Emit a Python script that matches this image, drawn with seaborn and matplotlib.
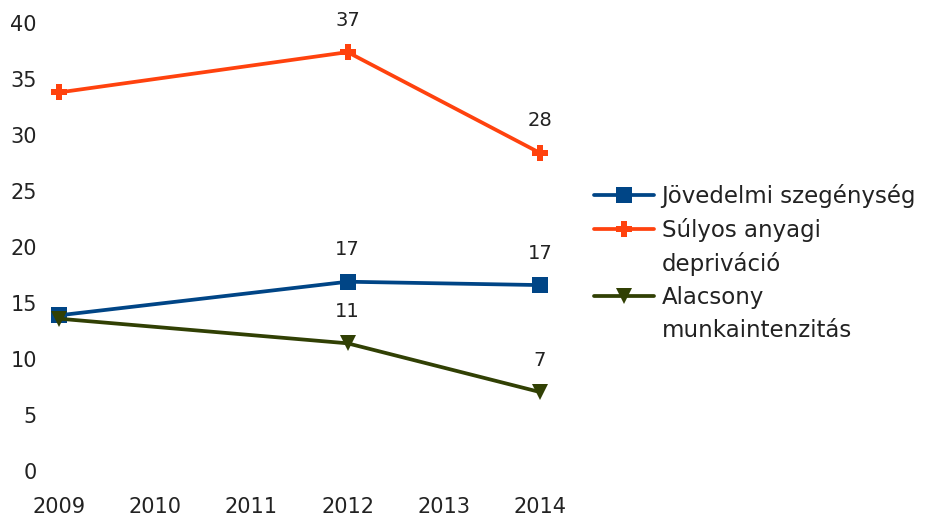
import matplotlib
matplotlib.use("Agg")
import matplotlib.pyplot as plt
import seaborn as sns
import pandas as pd
from matplotlib.lines import Line2D

years = [2009, 2012, 2014]
jovedelmi = [13.9, 16.9, 16.6]
sulyos = [33.8, 37.4, 28.4]
alacsony = [13.6, 11.4, 7.05]

series_names = ["Jövedelmi szegénység", "Súlyos anyagi\ndepriváció", "Alacsony\nmunkaintenzitás"]
series_values = [jovedelmi, sulyos, alacsony]
colors = ["#004586", "#ff420e", "#314004"]
markers = ["s", "P", "v"]
marker_sizes = [12, 11, 12]

x_ticks = [2009, 2010, 2011, 2012, 2013, 2014]
y_ticks = [0, 5, 10, 15, 20, 25, 30, 35, 40]

sns.set_theme(style="white")
plt.rcParams["font.family"] = ["DejaVu Sans"]

fig = plt.figure(figsize=(9.29, 5.17), dpi=100)
ax = fig.add_axes([48 / 929, 1 - 471 / 517, 503 / 929, 448 / 517])

for name, vals, color, marker, ms in zip(series_names, series_values, colors, markers, marker_sizes):
    df = pd.DataFrame({"year": years, "value": vals})
    sns.lineplot(
        data=df, x="year", y="value", ax=ax, color=color, linewidth=2.7,
        marker=marker, markersize=ms, markeredgewidth=0, markeredgecolor=color,
    )
    # value labels only for 2012 and 2014
    for x, v in zip(years[1:], vals[1:]):
        ax.annotate(f"{v:.0f}", (x, v), xytext=(0, 23), textcoords="offset points",
                    ha="center", va="center", fontsize=14, color="#222222")

ax.set_xlim(2009 - 0.115, 2014 + 0.115)
ax.set_ylim(0, 40)
ax.set_xticks(x_ticks)
ax.set_yticks(y_ticks)
ax.set_xlabel("")
ax.set_ylabel("")
ax.tick_params(axis="x", length=0, pad=19, labelsize=15, labelcolor="#222222")
ax.tick_params(axis="y", length=0, pad=8, labelsize=15, labelcolor="#222222")
sns.despine(ax=ax, left=True, bottom=True)
ax.grid(False)

# legend: handles aligned with the first line of each label
blank = Line2D([], [], color="none")
handles = [
    Line2D([], [], color=colors[0], lw=2.7, marker=markers[0], ms=marker_sizes[0], mew=0),
    Line2D([], [], color=colors[1], lw=2.7, marker=markers[1], ms=marker_sizes[1], mew=0),
    blank,
    Line2D([], [], color=colors[2], lw=2.7, marker=markers[2], ms=marker_sizes[2], mew=0),
    blank,
]
labels = ["Jövedelmi szegénység", "Súlyos anyagi", "depriváció", "Alacsony", "munkaintenzitás"]
fig.legend(handles, labels, loc="upper left", bbox_to_anchor=(594 / 929, 1 - 184 / 517),
           frameon=False, fontsize=16.5, handlelength=2.6, handletextpad=0.35,
           borderpad=0, borderaxespad=0, labelspacing=0.44, labelcolor="#222222")

fig.savefig("out.png", dpi=100)
